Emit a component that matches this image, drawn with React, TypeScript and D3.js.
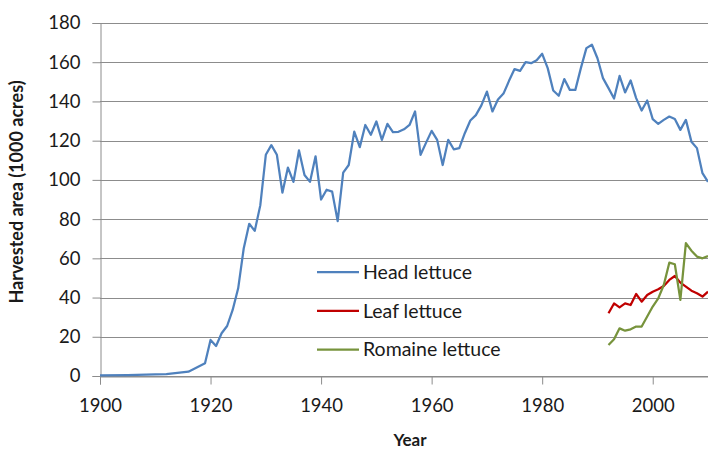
import React, { useEffect, useRef } from "react";
import * as d3 from "d3";

// head lettuce, harvested area (1000 acres)
const headYears = [1900, 1905, 1910, 1912, 1916, 1919, 1920, 1921, 1922, 1923, 1924, 1925, 1926, 1927, 1928, 1929,
  1930, 1931, 1932, 1933, 1934, 1935, 1936, 1937, 1938, 1939, 1940, 1941, 1942, 1943, 1944, 1945, 1946, 1947, 1948, 1949,
  1950, 1951, 1952, 1953, 1954, 1955, 1956, 1957, 1958, 1959, 1960, 1961, 1962, 1963, 1964, 1965, 1966, 1967, 1968, 1969,
  1970, 1971, 1972, 1973, 1974, 1975, 1976, 1977, 1978, 1979, 1980, 1981, 1982, 1983, 1984, 1985, 1986, 1987, 1988, 1989,
  1990, 1991, 1992, 1993, 1994, 1995, 1996, 1997, 1998, 1999, 2000, 2001, 2002, 2003, 2004, 2005, 2006, 2007, 2008, 2009, 2010];
const headValues = [0.3, 0.5, 0.8, 1.0, 2.2, 6.5, 18.4, 15.3, 21.8, 25.5, 33.7, 44.7, 65, 77.6, 74, 87,
  112.8, 117.7, 112.8, 93.5, 106.3, 99, 115, 102.5, 99, 112, 90, 95, 94, 79, 103.7, 107.6, 124.6, 116.7, 128, 123,
  129.8, 120.4, 128.6, 124.3, 124.5, 125.8, 128, 134.9, 112.8, 119, 125, 120.4, 107.6, 120.4, 115.6, 116.2, 123.8, 130.3, 133, 138,
  145, 134.9, 141, 144, 150.5, 156.5, 155.6, 160, 159.5, 161, 164.3, 157, 145.6, 142.9, 151.4, 145.9, 145.9, 157, 167.2, 168.9,
  162, 151.9, 146.8, 141.5, 153, 144.6, 150.7, 141.7, 135.4, 140.5, 131, 128.6, 130.6, 132.3, 131, 125.5, 130.6, 119.5, 116.2, 103.4, 99];

const recentYears = [1992, 1993, 1994, 1995, 1996, 1997, 1998, 1999, 2000, 2001, 2002, 2003, 2004, 2005, 2006, 2007, 2008, 2009, 2010];
const leafValues = [32, 37, 35, 37, 36.2, 41.8, 37.9, 41.3, 43, 44.2, 45.9, 49, 51, 47.6, 45.6, 43.5, 42.2, 40.5, 43];
const romaineValues = [15.8, 18.7, 24.3, 23.1, 23.8, 25.2, 25.2, 30.3, 35.4, 39.6, 46.4, 57.8, 57, 38.8, 67.7, 63.9, 60.9, 60, 61.2];

const xTicks = [1900, 1920, 1940, 1960, 1980, 2000];
const yTicks = [0, 20, 40, 60, 80, 100, 120, 140, 160, 180];

const seriesNames = ["Head lettuce", "Leaf lettuce", "Romaine lettuce"];
const seriesColors = ["#4F81BD", "#C00000", "#77933C"];

const W = 708, H = 451;
const margin = { top: 23, right: 0, bottom: 75, left: 100 };
const FONT = "Lato, 'Open Sans', sans-serif";

export default function App() {
  const ref = useRef<SVGSVGElement>(null);

  useEffect(() => {
    const svg = d3.select(ref.current);
    svg.selectAll("*").remove();

    const x = d3.scaleLinear().domain([1900, 2010]).range([margin.left, W - margin.right]);
    // y(0) sits at ~376
    const y = d3.scaleLinear().domain([0, 180]).range([376, margin.top]);

    // gridlines
    svg.append("g")
      .selectAll("line")
      .data(yTicks)
      .join("line")
      .attr("x1", margin.left)
      .attr("x2", W)
      .attr("y1", d => Math.round(y(d)) + 0.5)
      .attr("y2", d => Math.round(y(d)) + 0.5)
      .attr("stroke", "#8c8c8c")
      .attr("stroke-width", 1);

    // y axis
    const yAxis = svg.append("g")
      .attr("transform", `translate(${margin.left + 0.5},0)`)
      .call(d3.axisLeft(y).tickValues(yTicks).tickSize(8).tickPadding(12).tickFormat(d3.format("d")));
    yAxis.select(".domain").attr("stroke", "#8c8c8c");
    yAxis.selectAll(".tick line").attr("stroke", "#8c8c8c");
    yAxis.selectAll(".tick text")
      .attr("fill", "#1a1a1a")
      .style("font-family", FONT)
      .style("font-size", "18.5px");

    // x axis
    const xAxis = svg.append("g")
      .attr("transform", `translate(0,${Math.round(y(0)) + 0.5})`)
      .call(d3.axisBottom(x).tickValues(xTicks).tickSize(8).tickPadding(14).tickFormat(d3.format("d")));
    xAxis.select(".domain").attr("stroke", "#8c8c8c");
    xAxis.selectAll(".tick line").attr("stroke", "#8c8c8c");
    xAxis.selectAll(".tick text")
      .attr("fill", "#1a1a1a")
      .style("font-family", FONT)
      .style("font-size", "18.5px");

    const line = d3.line<[number, number]>()
      .x(d => x(d[0]))
      .y(d => y(d[1]));

    const seriesData: [number, number][][] = [
      headYears.map((yr, i) => [yr, headValues[i]]),
      recentYears.map((yr, i) => [yr, leafValues[i]]),
      recentYears.map((yr, i) => [yr, romaineValues[i]]),
    ];

    svg.append("g")
      .selectAll("path")
      .data(seriesData)
      .join("path")
      .attr("d", d => line(d))
      .attr("fill", "none")
      .attr("stroke", (d, i) => seriesColors[i])
      .attr("stroke-width", 2.25)
      .attr("stroke-linejoin", "round");

    // legend
    const legend = svg.append("g").attr("transform", "translate(317,272)");
    const items = legend.selectAll("g")
      .data(seriesNames)
      .join("g")
      .attr("transform", (d, i) => `translate(0,${i * 38.8})`);
    items.append("line")
      .attr("x1", 0).attr("x2", 42)
      .attr("stroke", (d, i) => seriesColors[i])
      .attr("stroke-width", 2.25);
    items.append("text")
      .attr("x", 46)
      .attr("dy", "0.35em")
      .attr("fill", "#1a1a1a")
      .style("font-family", FONT)
      .style("font-size", "19.5px")
      .text(d => d);

    // axis titles
    svg.append("text")
      .attr("x", 410)
      .attr("y", 446)
      .attr("text-anchor", "middle")
      .attr("fill", "#1a1a1a")
      .style("font-family", FONT)
      .style("font-weight", "bold")
      .style("font-size", "17px")
      .text("Year");

    svg.append("text")
      .attr("transform", "translate(23,192) rotate(-90)")
      .attr("text-anchor", "middle")
      .attr("fill", "#1a1a1a")
      .style("font-family", FONT)
      .style("font-weight", "bold")
      .style("font-size", "18px")
      .text("Harvested area (1000 acres)");
  }, []);

  return (
    <svg ref={ref} width={W} height={H}
      style={{ position: "absolute", left: 0, top: 0, background: "#fff" }} />
  );
}
